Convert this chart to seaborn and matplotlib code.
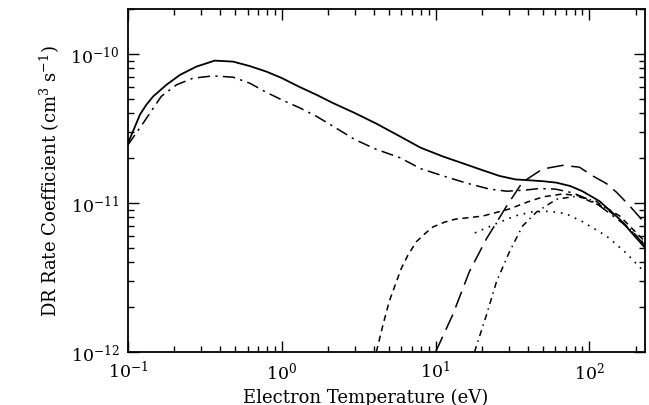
import numpy as np
import pandas as pd
import matplotlib
matplotlib.use("Agg")
import matplotlib.pyplot as plt
import seaborn as sns
from matplotlib.ticker import LogLocator, NullFormatter

# ---- data ----
T_total = [0.1, 0.108, 0.12, 0.132, 0.146, 0.178, 0.218, 0.279, 0.367, 0.483, 0.62, 0.795, 1.0,
           1.31, 1.68, 2.15, 2.98, 4.12, 5.83, 8.0, 11.2, 15.9, 20.2, 26, 33, 41, 50, 61, 75, 90,
           116, 157, 230]
R_total = [2.51e-11, 3.03e-11, 3.93e-11, 4.57e-11, 5.19e-11, 6.21e-11, 7.24e-11, 8.23e-11, 9.03e-11,
           8.89e-11, 8.3e-11, 7.62e-11, 6.9e-11, 6.0e-11, 5.33e-11, 4.69e-11, 4.02e-11, 3.41e-11,
           2.81e-11, 2.35e-11, 2.05e-11, 1.81e-11, 1.66e-11, 1.52e-11, 1.44e-11, 1.42e-11, 1.40e-11,
           1.37e-11, 1.3e-11, 1.2e-11, 1.03e-11, 7.8e-12, 5.0e-12]

T_dd1 = [0.1, 0.126, 0.165, 0.207, 0.265, 0.358, 0.483, 0.62, 0.795, 1.0, 1.31, 1.68, 2.15, 2.98,
         4.12, 5.83, 8.0, 11.2, 15.9, 22.4, 29, 38, 47, 60, 78, 100, 116, 174, 230]
R_dd1 = [2.45e-11, 3.45e-11, 5.2e-11, 6.21e-11, 6.88e-11, 7.13e-11, 6.99e-11, 6.37e-11, 5.53e-11,
         4.93e-11, 4.35e-11, 3.82e-11, 3.28e-11, 2.67e-11, 2.29e-11, 2.02e-11, 1.7e-11, 1.52e-11,
         1.36e-11, 1.24e-11, 1.2e-11, 1.22e-11, 1.25e-11, 1.24e-11, 1.17e-11, 1.05e-11, 9.6e-12,
         7.0e-12, 5.2e-12]

T_sdash = [4.12, 4.55, 5.0, 5.56, 5.98, 6.6, 7.5, 8.5, 9.6, 11.4, 13.5, 20.2, 30, 40, 50, 67, 85,
           100, 130, 157, 230]
R_sdash = [1.0e-12, 1.52e-12, 2.19e-12, 2.96e-12, 3.63e-12, 4.45e-12, 5.5e-12, 6.21e-12, 6.9e-12,
           7.43e-12, 7.8e-12, 8.17e-12, 9.1e-12, 1.02e-11, 1.1e-11, 1.15e-11, 1.12e-11, 1.03e-11,
           9.2e-12, 8.2e-12, 5.5e-12]

T_ldash = [10, 12.9, 16.6, 21.4, 28.9, 36.7, 49.5, 67, 86, 105, 129, 150, 182, 230]
R_ldash = [1.0e-12, 1.77e-12, 3.47e-12, 5.75e-12, 9.5e-12, 1.38e-11, 1.69e-11, 1.79e-11, 1.74e-11,
           1.52e-11, 1.35e-11, 1.18e-11, 9.6e-12, 7.3e-12]

T_dd2 = [17.9, 21.4, 24.9, 30.2, 36.7, 45.3, 61, 82, 110, 157, 230]
R_dd2 = [1.0e-12, 1.77e-12, 2.97e-12, 4.7e-12, 7.0e-12, 8.7e-12, 1.06e-11, 1.11e-11, 1.03e-11,
         7.8e-12, 5.3e-12]

T_dot = [18, 25, 33, 42, 55, 70, 90, 129, 174, 230]
R_dot = [6.3e-12, 7.3e-12, 8.2e-12, 8.7e-12, 8.8e-12, 8.5e-12, 7.5e-12, 6.0e-12, 4.6e-12, 3.4e-12]

x_ticks = [0.1, 1, 10, 100]
x_ticklabels = [r"$10^{-1}$", r"$10^{0}$", r"$10^{1}$", r"$10^{2}$"]
y_ticks = [1e-12, 1e-11, 1e-10]
y_ticklabels = [r"$10^{-12}$", r"$10^{-11}$", r"$10^{-10}$"]

# ---- style ----
sns.set_theme(style="ticks")
plt.rcParams["font.family"] = ["DejaVu Serif"]
plt.rcParams["mathtext.fontset"] = "dejavuserif"
plt.rcParams["text.color"] = "black"
plt.rcParams["axes.labelcolor"] = "black"
plt.rcParams["xtick.color"] = "black"
plt.rcParams["ytick.color"] = "black"

fig = plt.figure(figsize=(6.49, 4.06), dpi=100)
ax = fig.add_axes([0.197, 0.1305, 0.797, 0.8445])

series = [
    (T_total, R_total, "-", 1.3),
    (T_dd1, R_dd1, (0, (8, 3.5, 1.5, 3.5)), 1.1),
    (T_sdash, R_sdash, (0, (4, 3)), 1.1),
    (T_ldash, R_ldash, (0, (11, 5)), 1.1),
    (T_dd2, R_dd2, (0, (4, 3, 1, 3)), 1.1),
    (T_dot, R_dot, (0, (1, 3.5)), 1.2),
]
for T, R, ls, lw in series:
    df = pd.DataFrame({"T": T, "R": R})
    sns.lineplot(data=df, x="T", y="R", ax=ax, color="black", linestyle=ls,
                 linewidth=lw, estimator=None, sort=True)

ax.set_xscale("log")
ax.set_yscale("log")
ax.set_xlim(0.1, 230)
ax.set_ylim(1e-12, 2e-10)

ax.set_xticks(x_ticks)
ax.set_xticklabels(x_ticklabels, fontsize=12.5, color="black")
ax.set_yticks(y_ticks)
ax.set_yticklabels(y_ticklabels, fontsize=12.5, color="black")
ax.xaxis.set_minor_locator(LogLocator(base=10, subs=np.arange(2, 10)))
ax.yaxis.set_minor_locator(LogLocator(base=10, subs=np.arange(2, 10)))
ax.xaxis.set_minor_formatter(NullFormatter())
ax.yaxis.set_minor_formatter(NullFormatter())

ax.tick_params(which="both", direction="in", top=True, right=True, color="black", width=1.0)
ax.tick_params(which="major", length=8, pad=6)
ax.tick_params(which="minor", length=4)
for s in ax.spines.values():
    s.set_linewidth(1.3)
    s.set_color("black")

ax.set_xlabel("Electron Temperature (eV)", fontsize=13, labelpad=0, color="black")
ax.xaxis.set_label_coords(0.46, -0.105)
ax.set_ylabel(r"DR Rate Coefficient (cm$^{3}$ s$^{-1}$)", fontsize=13, labelpad=6, color="black")

fig.savefig("out.png", dpi=100)
